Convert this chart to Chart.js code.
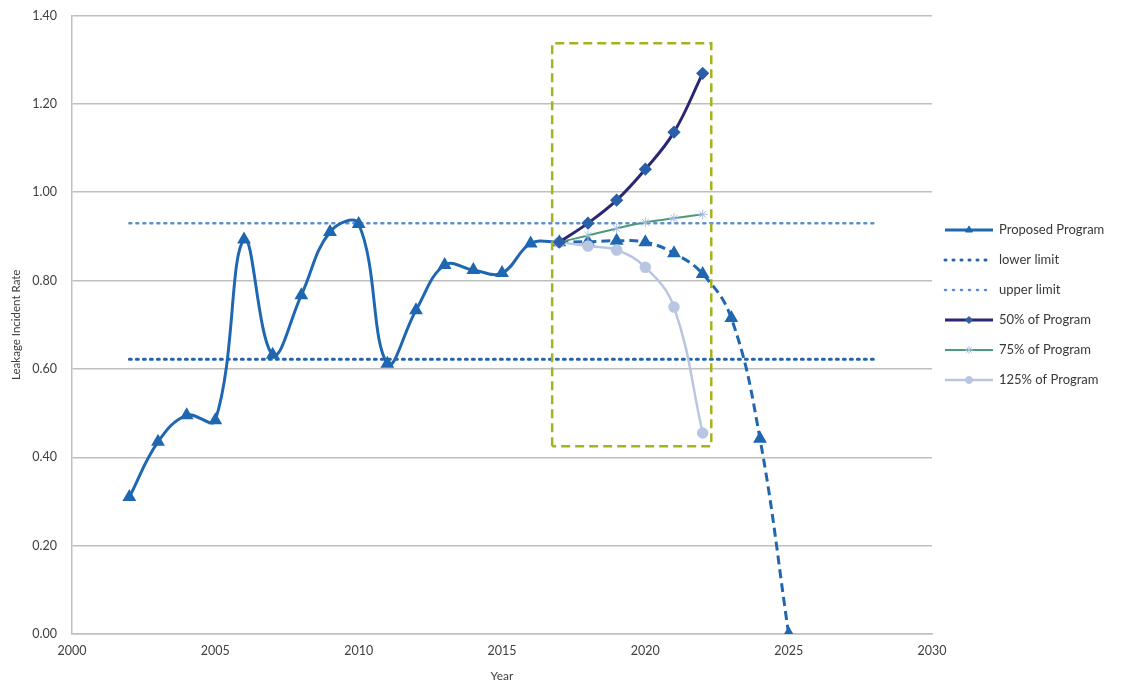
<!DOCTYPE html>
<html>
<head>
<meta charset="utf-8">
<script src="https://cdn.jsdelivr.net/npm/chart.js@4.4.1/dist/chart.umd.min.js"></script>
<style>
  html, body { margin: 0; padding: 0; background: #fff; }
  #wrap { width: 1123px; height: 683px; }
</style>
</head>
<body>
<div id="wrap"><canvas id="chart"></canvas></div>
<script>
// valori
const years = [2002, 2003, 2004, 2005, 2006, 2007, 2008, 2009, 2010, 2011, 2012, 2013,
    2014, 2015, 2016, 2017, 2018, 2019, 2020, 2021, 2022, 2023, 2024, 2025];
const proposed = [0.31, 0.435, 0.495, 0.484, 0.893, 0.632, 0.767, 0.91, 0.928, 0.612, 0.733, 0.835,
    0.824, 0.817, 0.884, 0.887, 0.888, 0.89, 0.887, 0.862, 0.815, 0.715, 0.442, 0.0];
const projectionStart = 2017;

const scenarioYears = [2017, 2018, 2019, 2020, 2021, 2022];
const program50 = [0.887, 0.93, 0.982, 1.052, 1.136, 1.269];
const program75 = [0.887, 0.902, 0.918, 0.932, 0.941, 0.95];
const program125 = [0.887, 0.878, 0.869, 0.83, 0.74, 0.455];

const limitYears = [2002, 2028];
const lowerLimit = 0.622;
const upperLimit = 0.93;

const boxYears = [2016.75, 2022.3];
const boxRange = [0.425, 1.337];

const xTicks = [2000, 2005, 2010, 2015, 2020, 2025, 2030];

const toPoints = (xs, ys) => xs.map((x, i) => ({ x: x, y: ys[i] }));

// legenda disegnata a mano come in Excel
const excelLegend = {
    id: "excelLegend",
    afterDraw(chart) {
        const ctx = chart.ctx;
        let y = 230;
        chart.data.datasets.forEach((ds) => {
            if (ds.hideLegend) return;
            ctx.save();
            ctx.strokeStyle = ds.borderColor;
            ctx.lineWidth = ds.borderWidth;
            ctx.setLineDash(ds.legendDash || []);
            ctx.lineCap = ds.legendDash ? "round" : "butt";
            ctx.beginPath();
            ctx.moveTo(945, y);
            ctx.lineTo(993, y);
            ctx.stroke();
            ctx.setLineDash([]);
            if (ds.pointStyle && ds.pointRadius > 0) {
                ctx.fillStyle = ds.pointBackgroundColor;
                ctx.strokeStyle = ds.pointBorderColor;
                ctx.lineWidth = 1;
                Chart.helpers.drawPoint(ctx, {
                    pointStyle: ds.pointStyle,
                    radius: ds.pointRadius - 1,
                    borderWidth: 1,
                    rotation: 0,
                }, 969, y);
            }
            ctx.fillStyle = "#383838";
            ctx.font = "13px Lato";
            ctx.textBaseline = "middle";
            ctx.fillText(ds.label, 999, y);
            ctx.restore();
            y += 30;
        });
    },
};

new Chart(document.getElementById("chart"), {
    type: "line",
    data: {
        datasets: [
            {
                label: "Proposed Program",
                data: toPoints(years, proposed),
                borderColor: "#1f67b1",
                borderWidth: 3,
                tension: 0.4,
                pointStyle: "triangle",
                pointRadius: 5,
                pointBackgroundColor: "#1f67b1",
                pointBorderColor: "#1f67b1",
                segment: {
                    borderDash: (c) => c.p0.parsed.x >= projectionStart ? [9, 5] : undefined,
                },
                order: 2,
            },
            {
                label: "lower limit",
                data: toPoints(limitYears, [lowerLimit, lowerLimit]),
                borderColor: "#2563aa",
                borderWidth: 3,
                borderDash: [2, 5],
                borderCapStyle: "round",
                legendDash: [1, 7],
                pointRadius: 0,
                order: 5,
            },
            {
                label: "upper limit",
                data: toPoints(limitYears, [upperLimit, upperLimit]),
                borderColor: "#5f8fcf",
                borderWidth: 2.5,
                borderDash: [2, 5],
                borderCapStyle: "round",
                legendDash: [1, 7],
                pointRadius: 0,
                order: 5,
            },
            {
                label: "50% of Program",
                data: toPoints(scenarioYears, program50),
                borderColor: "#2a2773",
                borderWidth: 3,
                tension: 0.4,
                pointStyle: "rectRot",
                pointRadius: 4.5,
                pointBackgroundColor: "#2b5fa8",
                pointBorderColor: "#2b5fa8",
                order: 1,
            },
            {
                label: "75% of Program",
                data: toPoints(scenarioYears, program75),
                borderColor: "#4c9a7a",
                borderWidth: 2,
                tension: 0.4,
                pointStyle: "star",
                pointRadius: 5,
                pointBorderWidth: 1,
                pointBackgroundColor: "#a9bfe0",
                pointBorderColor: "#a9bfe0",
                order: 1,
            },
            {
                label: "125% of Program",
                data: toPoints(scenarioYears, program125),
                borderColor: "#b8c6e2",
                borderWidth: 2.5,
                tension: 0.4,
                pointStyle: "circle",
                pointRadius: 4.5,
                pointBackgroundColor: "#b8c6e2",
                pointBorderColor: "#b8c6e2",
                order: 1,
            },
            {
                label: "box",
                hideLegend: true,
                data: [
                    { x: boxYears[0], y: boxRange[0] },
                    { x: boxYears[0], y: boxRange[1] },
                    { x: boxYears[1], y: boxRange[1] },
                    { x: boxYears[1], y: boxRange[0] },
                    { x: boxYears[0], y: boxRange[0] },
                ],
                borderColor: "#a6b41c",
                borderWidth: 2.5,
                borderDash: [9, 5],
                tension: 0,
                pointRadius: 0,
                order: 0,
            },
        ],
    },
    options: {
        responsive: true,
        maintainAspectRatio: false,
        animation: false,
        layout: {
            padding: { top: 0, right: 191, left: 0, bottom: 0 },
        },
        plugins: {
            legend: { display: false },
            tooltip: { enabled: false },
        },
        scales: {
            x: {
                type: "linear",
                min: 2000,
                max: 2030,
                afterBuildTicks: (scale) => {
                    scale.ticks = xTicks.map((v) => ({ value: v }));
                },
                afterFit: (scale) => {
                    scale.height = 49;
                },
                grid: { display: false, drawTicks: false },
                border: { display: true, color: "#bfbfbf", width: 1.5 },
                ticks: {
                    padding: 9,
                    color: "#404040",
                    font: { family: "Lato", size: 12.5 },
                    maxRotation: 0,
                    callback: (v) => String(v),
                },
                title: {
                    display: true,
                    text: "Year",
                    color: "#404040",
                    font: { family: "Lato", size: 12 },
                    padding: { top: 0, bottom: 0 },
                },
            },
            y: {
                min: 0,
                max: 1.4,
                afterFit: (scale) => {
                    scale.width = 72;
                },
                grid: {
                    color: "#bfbfbf",
                    lineWidth: 1.5,
                    drawTicks: true,
                    tickLength: 7,
                    tickColor: "rgba(0,0,0,0)",
                },
                border: { display: true, color: "#bfbfbf", width: 1.5 },
                ticks: {
                    stepSize: 0.2,
                    padding: 8,
                    color: "#404040",
                    font: { family: "Lato", size: 12.5 },
                    callback: (v) => v.toFixed(2),
                },
                title: {
                    display: true,
                    text: "Leakage Incident Rate",
                    color: "#404040",
                    font: { family: "Lato", size: 11.5 },
                    padding: { top: 9, bottom: 4 },
                },
            },
        },
    },
    plugins: [excelLegend],
});
</script>
</body>
</html>
